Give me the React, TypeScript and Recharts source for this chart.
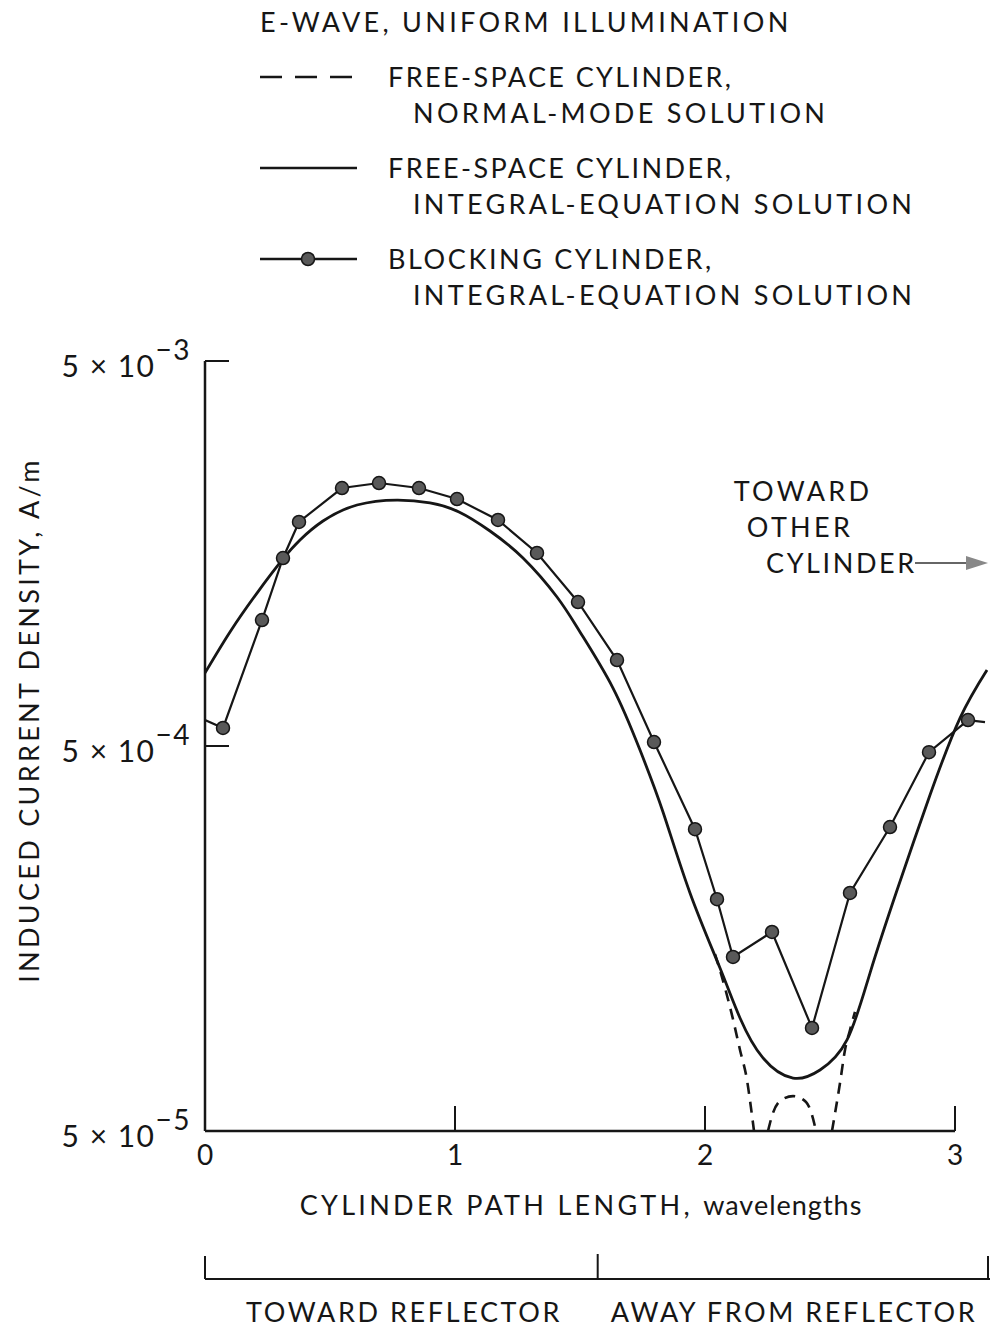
import { LineChart, Line, XAxis, YAxis, ReferenceLine } from 'recharts';

// free-space cylinder, integral-equation solution (solid)
const SOLID_X = [0, 0.1, 0.208, 0.312, 0.38, 0.472, 0.608, 0.768, 0.9, 1.016, 1.14, 1.272, 1.408, 1.5, 1.632, 1.74, 1.832, 1.94, 2.06, 2.14, 2.232, 2.352, 2.46, 2.568, 2.66, 2.768, 2.9, 3.02, 3.128];
const SOLID_Y = [7.74e-4, 9.89e-4, 1.248e-3, 1.53e-3, 1.714e-3, 1.92e-3, 2.113e-3, 2.177e-3, 2.139e-3, 2.027e-3, 1.809e-3, 1.539e-3, 1.219e-3, 9.89e-4, 7.07e-4, 4.88e-4, 3.37e-4, 2.076e-4, 1.325e-4, 9.83e-5, 7.74e-5, 6.86e-5, 7.2e-5, 8.62e-5, 1.286e-4, 2.11e-4, 3.73e-4, 5.91e-4, 7.88e-4];

// free-space cylinder, normal-mode solution (dashed) - only where it departs from the solid curve
const DASH_X = [2.04, 2.052, 2.108, 2.14, 2.168, 2.184, 2.196, 2.23, 2.252, 2.272, 2.3, 2.352, 2.404, 2.428, 2.444, 2.47, 2.508, 2.54, 2.56, 2.58, 2.6];
const DASH_Y = [1.44e-4, 1.36e-4, 1.0e-4, 8.12e-5, 6.78e-5, 5.74e-5, 5.0e-5, null, 5.0e-5, 5.57e-5, 5.98e-5, 6.16e-5, 5.95e-5, 5.5e-5, 5.0e-5, null, 5.0e-5, 6.66e-5, 8.12e-5, 9.15e-5, 1.02e-4];

// blocking cylinder, integral-equation solution (computed points)
const BLOCK_X = [0.072, 0.228, 0.312, 0.376, 0.548, 0.696, 0.856, 1.008, 1.172, 1.328, 1.492, 1.648, 1.796, 1.96, 2.048, 2.112, 2.268, 2.428, 2.58, 2.74, 2.896, 3.052];
const BLOCK_Y = [5.57e-4, 1.062e-3, 1.539e-3, 1.909e-3, 2.339e-3, 2.41e-3, 2.339e-3, 2.19e-3, 1.932e-3, 1.586e-3, 1.183e-3, 8.36e-4, 5.12e-4, 3.04e-4, 2.0e-4, 1.416e-4, 1.644e-4, 9.26e-5, 2.076e-4, 3.08e-4, 4.82e-4, 5.84e-4];
// where the blocking curve meets the ends of the path
const BLOCK_START = { x: 0, v: 5.84e-4 };
const BLOCK_END = { x: 3.12, v: 5.77e-4 };

const X_TICKS = [0, 1, 2, 3];
const Y_TICKS = [5e-5, 5e-4, 5e-3];
const X_MAX = 3.14;

const solidData = SOLID_X.map((x, i) => ({ x, v: SOLID_Y[i] }));
const dashData = DASH_X.map((x, i) => ({ x, v: DASH_Y[i] }));
const blockData = [
  { ...BLOCK_START, marker: false },
  ...BLOCK_X.map((x, i) => ({ x, v: BLOCK_Y[i], marker: true })),
  { ...BLOCK_END, marker: false },
];

const INK = '#161616';
const FONT = 'Lato, "Open Sans", sans-serif';

// plot geometry
const PLOT_LEFT = 205;
const PLOT_RIGHT = 990;
const PLOT_TOP = 361;
const PX_PER_UNIT = (PLOT_RIGHT - PLOT_LEFT) / X_MAX;

const YTick = ({ x, y, payload }: any) => {
  const exp = Math.round(Math.log10(payload.value / 5));
  return (
    <g>
      <line x1={x} x2={x + 24} y1={y} y2={y} stroke={INK} strokeWidth={2} />
      <text x={x - 14} y={y + 16} textAnchor="end" fontSize={30} fill={INK} fontFamily={FONT} letterSpacing={1.5}>
        5 × 10
        <tspan dy={-17} fontSize={28}>
          {'\u2212' + Math.abs(exp)}
        </tspan>
      </text>
    </g>
  );
};

const XTick = ({ x, y, payload }: any) => (
  <g>
    <line x1={x} x2={x} y1={y} y2={y - 25} stroke={INK} strokeWidth={2} />
    <text x={x} y={y + 34} textAnchor="middle" fontSize={28} fill={INK} fontFamily={FONT}>
      {payload.value}
    </text>
  </g>
);

const BlockDot = (props: any) => {
  const { cx, cy, payload, index } = props;
  if (!payload.marker) return <g key={`d-${index}`} />;
  return <circle key={`d-${index}`} cx={cx} cy={cy} r={6.5} fill="#595959" stroke={INK} strokeWidth={1.5} />;
};

const txt = { fontFamily: FONT, fontSize: 27, fill: INK, letterSpacing: 3.3 } as const;

export default function App() {
  const mid = PLOT_LEFT + (Math.PI / 2) * PX_PER_UNIT;
  return (
    <div style={{ position: 'absolute', left: 0, top: 0, width: 990, height: 1332, background: '#fff' }}>
      <LineChart width={990} height={1332} margin={{ top: PLOT_TOP, right: 0, bottom: 141, left: 85 }}>
        <XAxis
          type="number"
          dataKey="x"
          domain={[0, X_MAX]}
          ticks={X_TICKS}
          allowDataOverflow
          axisLine={false}
          tickLine={false}
          tickSize={0}
          tickMargin={0}
          height={60}
          tick={<XTick />}
        />
        <YAxis
          type="number"
          scale="log"
          domain={[5e-5, 5e-3]}
          ticks={Y_TICKS}
          allowDataOverflow
          width={120}
          tickLine={false}
          tickSize={0}
          tickMargin={0}
          axisLine={{ stroke: INK, strokeWidth: 2.5 }}
          tick={<YTick />}
        />
        <ReferenceLine segment={[{ x: 0, y: 5e-5 }, { x: 3, y: 5e-5 }]} stroke={INK} strokeWidth={2.5} />
        <Line
          data={dashData}
          dataKey="v"
          type="monotone"
          stroke={INK}
          strokeWidth={2.6}
          strokeDasharray="11 8"
          dot={false}
          isAnimationActive={false}
        />
        <Line
          data={solidData}
          dataKey="v"
          type="natural"
          stroke={INK}
          strokeWidth={2.8}
          dot={false}
          isAnimationActive={false}
        />
        <Line
          data={blockData}
          dataKey="v"
          type="linear"
          stroke={INK}
          strokeWidth={2.2}
          dot={BlockDot}
          activeDot={false}
          isAnimationActive={false}
        />
      </LineChart>

      <svg width={990} height={1332} style={{ position: 'absolute', left: 0, top: 0, pointerEvents: 'none' }}>
        {/* legend */}
        <text x={260} y={32} {...txt}>E-WAVE,  UNIFORM ILLUMINATION</text>

        <line x1={260} x2={357} y1={77} y2={77} stroke={INK} strokeWidth={2.5} strokeDasharray="22 13" />
        <text x={388} y={87} {...txt} letterSpacing={2.4}>FREE-SPACE CYLINDER,</text>
        <text x={413} y={123} {...txt}>NORMAL-MODE SOLUTION</text>

        <line x1={260} x2={357} y1={168} y2={168} stroke={INK} strokeWidth={2.5} />
        <text x={388} y={178} {...txt} letterSpacing={2.4}>FREE-SPACE CYLINDER,</text>
        <text x={413} y={214} {...txt}>INTEGRAL-EQUATION SOLUTION</text>

        <line x1={260} x2={357} y1={259} y2={259} stroke={INK} strokeWidth={2.5} />
        <circle cx={308} cy={259} r={6.5} fill="#595959" stroke={INK} strokeWidth={1.5} />
        <text x={388} y={269} {...txt} letterSpacing={2.6}>BLOCKING CYLINDER,</text>
        <text x={413} y={305} {...txt}>INTEGRAL-EQUATION SOLUTION</text>

        {/* direction note */}
        <text x={803} y={501} textAnchor="middle" {...txt}>TOWARD</text>
        <text x={800} y={537} textAnchor="middle" {...txt}>OTHER</text>
        <text x={766} y={573} {...txt} letterSpacing={2.6}>CYLINDER</text>
        <line x1={915} x2={968} y1={563} y2={563} stroke="#666" strokeWidth={2} />
        <polygon points="966,556 988,563 966,570" fill="#888" />

        {/* axis titles */}
        <text x={0} y={0} transform="translate(39 720) rotate(-90)" textAnchor="middle" {...txt}>
          INDUCED CURRENT DENSITY, A/m
        </text>
        <text x={581} y={1215} textAnchor="middle" {...txt}>
          CYLINDER PATH LENGTH, <tspan letterSpacing={1}>wavelengths</tspan>
        </text>

        {/* reflector bracket */}
        <line x1={PLOT_LEFT} x2={990} y1={1279} y2={1279} stroke={INK} strokeWidth={2} />
        <line x1={PLOT_LEFT} x2={PLOT_LEFT} y1={1256} y2={1279} stroke={INK} strokeWidth={2} />
        <line x1={mid} x2={mid} y1={1254} y2={1279} stroke={INK} strokeWidth={2} />
        <line x1={988} x2={988} y1={1256} y2={1279} stroke={INK} strokeWidth={2} />
        <text x={404} y={1322} textAnchor="middle" {...txt} letterSpacing={2.6}>TOWARD REFLECTOR</text>
        <text x={794} y={1322} textAnchor="middle" {...txt} letterSpacing={2.6}>AWAY FROM REFLECTOR</text>
      </svg>
    </div>
  );
}
